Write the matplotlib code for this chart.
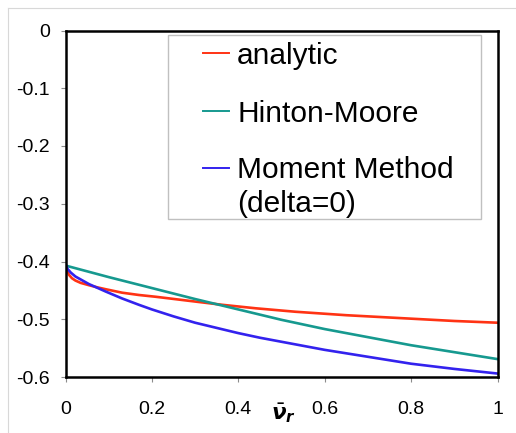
import matplotlib
matplotlib.use("Agg")
import matplotlib.pyplot as plt
from matplotlib.lines import Line2D
from matplotlib.patches import Rectangle
from matplotlib.transforms import blended_transform_factory

plt.rcParams['font.family'] = ['Liberation Sans', 'DejaVu Sans']
plt.rcParams['axes.unicode_minus'] = False

# ---- data ----
x_analytic = [0, 0.004, 0.008, 0.015, 0.023, 0.035, 0.054, 0.075, 0.093, 0.131, 0.17,
              0.208, 0.285, 0.363, 0.44, 0.532, 0.65, 0.8, 0.9, 1.0]
analytic = [-0.405, -0.416, -0.423, -0.429, -0.433, -0.437, -0.441, -0.445, -0.448,
            -0.454, -0.458, -0.461, -0.468, -0.475, -0.481, -0.487, -0.493, -0.499,
            -0.503, -0.506]

x_hinton = [0, 0.1, 0.2, 0.3, 0.4, 0.5, 0.6, 0.7, 0.8, 0.9, 1.0]
hinton = [-0.407, -0.427, -0.446, -0.465, -0.483, -0.501, -0.517, -0.531, -0.545,
          -0.557, -0.569]

x_moment = [0, 0.005, 0.012, 0.023, 0.054, 0.093, 0.131, 0.17, 0.2, 0.25, 0.3,
            0.35, 0.4, 0.45, 0.5, 0.55, 0.6, 0.65, 0.7, 0.75, 0.8, 0.9, 1.0]
moment = [-0.405, -0.413, -0.419, -0.426, -0.439, -0.452, -0.464, -0.475, -0.483,
          -0.495, -0.506, -0.515, -0.524, -0.532, -0.539, -0.546, -0.553, -0.559,
          -0.565, -0.571, -0.577, -0.586, -0.594]

series_labels = ["analytic", "Hinton-Moore", "Moment Method\n(delta=0)"]
series_colors = ['#ff3314', '#16998f', '#3322ee']

xticks = [0, 0.2, 0.4, 0.6, 0.8, 1.0]
xticklabels = ['0', '0.2', '0.4', '0.6', '0.8', '1']
yticks = [0, -0.1, -0.2, -0.3, -0.4, -0.5, -0.6]
yticklabels = ['0', '-0.1', '-0.2', '-0.3', '-0.4', '-0.5', '-0.6']

# ---- figure ----
W, H = 516, 433
fig = plt.figure(figsize=(W / 100, H / 100), dpi=100)
ax_l, ax_r, ax_t, ax_b = 65.5, 497.5, 30.5, 377.0
ax = fig.add_axes([ax_l / W, (H - ax_b) / H, (ax_r - ax_l) / W, (ax_b - ax_t) / H])

lw = 1.9
ax.plot(x_analytic, analytic, color=series_colors[0], lw=lw)
ax.plot(x_hinton, hinton, color=series_colors[1], lw=lw)
ax.plot(x_moment, moment, color=series_colors[2], lw=lw)

ax.set_xlim(0, 1)
ax.set_ylim(-0.6, 0)
ax.set_xticks(xticks)
ax.set_xticklabels(xticklabels)
ax.set_yticks(yticks)
ax.set_yticklabels(yticklabels)
ax.tick_params(axis='both', direction='out', length=3.6, width=0.8,
               color='#8c8c8c', labelsize=14, labelcolor='black')
ax.tick_params(axis='y', pad=7.5)
ax.tick_params(axis='x', pad=13.5)
for s in ax.spines.values():
    s.set_linewidth(1.8)
    s.set_color('black')

# x label
trans = blended_transform_factory(ax.transData, ax.transAxes)
ax.text(0.505, (ax_b - 401.0) / (ax_b - ax_t), r'$\bar{\boldsymbol{\nu}}_{\boldsymbol{r}}$',
        transform=trans, ha='center', va='top', fontsize=15.5)

# ---- legend (manual) ----
aw, ah = ax_r - ax_l, ax_b - ax_t
def fx(px):
    return (px - ax_l) / aw
def fy(py):
    return (ax_b - py) / ah

ax.add_patch(Rectangle((fx(168), fy(219)), fx(481) - fx(168), fy(35) - fy(219),
                       transform=ax.transAxes, facecolor='white', edgecolor='#c0c0c0',
                       lw=1.0, zorder=5))
handle_y = [53, 111, 168]
text_base = [[64.3], [121.7], [178.3, 211.7]]
for lab, col, hy, tb in zip(series_labels, series_colors, handle_y, text_base):
    ax.add_line(Line2D([fx(203), fx(229)], [fy(hy), fy(hy)], transform=ax.transAxes,
                       color=col, lw=1.4, zorder=6))
    for line, by in zip(lab.split('\n'), tb):
        ax.text(fx(237), fy(by), line, transform=ax.transAxes, ha='left',
                va='baseline', fontsize=21.5, zorder=6)

# figure border
fig.add_artist(Line2D([8 / W, 8 / W], [0, 1 - 7.5 / H], transform=fig.transFigure,
                      color='#d8d8d8', lw=0.8))
fig.add_artist(Line2D([8 / W, 1], [1 - 7.5 / H, 1 - 7.5 / H], transform=fig.transFigure,
                      color='#d8d8d8', lw=0.8))

fig.savefig('out.png', dpi=100)
